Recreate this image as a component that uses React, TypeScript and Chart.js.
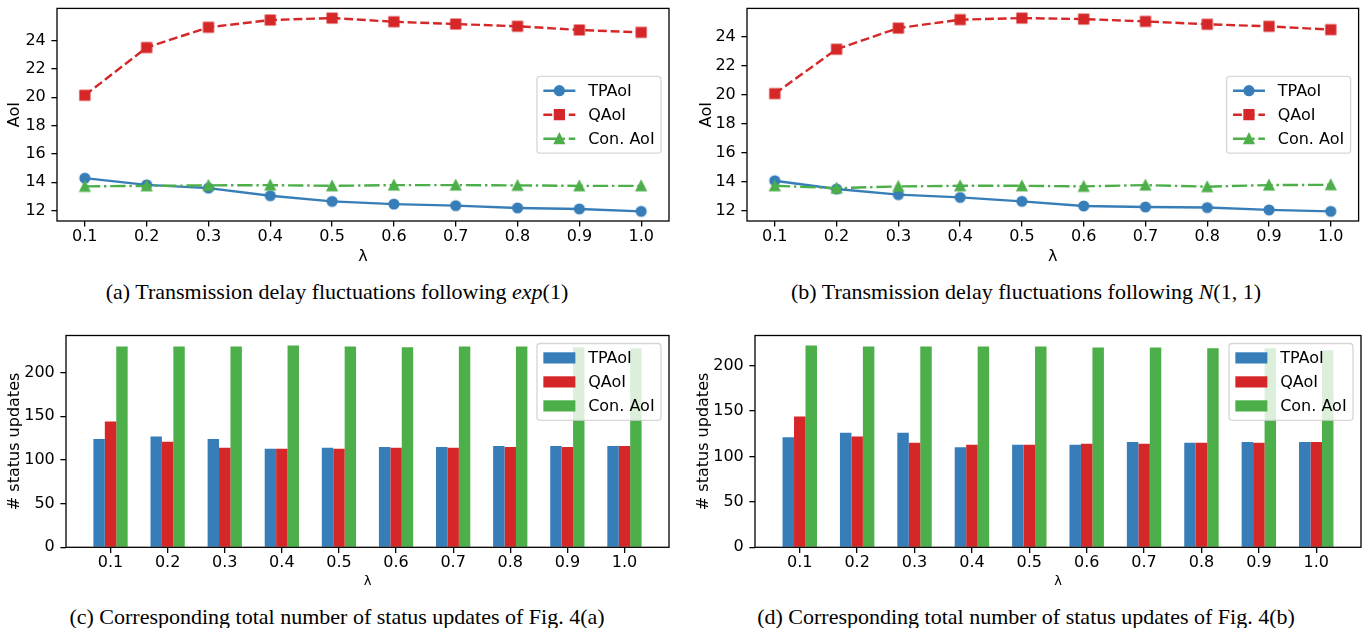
import React, { useEffect, useRef } from 'react';
import { Chart, registerables } from 'chart.js';

Chart.register(...registerables);

// ---------------- data ----------------
const LAMBDAS = [0.1, 0.2, 0.3, 0.4, 0.5, 0.6, 0.7, 0.8, 0.9, 1.0];
const LAMBDA_LABELS = ['0.1', '0.2', '0.3', '0.4', '0.5', '0.6', '0.7', '0.8', '0.9', '1.0'];
const SERIES = ['TPAoI', 'QAoI', 'Con. AoI'];
const AOI_TICKS = [12, 14, 16, 18, 20, 22, 24];
const COUNT_TICKS = [0, 50, 100, 150, 200];

// (a) exp(1)
const A_TPAOI = [14.29, 13.82, 13.59, 13.05, 12.65, 12.46, 12.35, 12.19, 12.12, 11.95];
const A_QAOI = [20.14, 23.51, 24.94, 25.45, 25.59, 25.33, 25.17, 25.01, 24.75, 24.58];
const A_CON = [13.71, 13.75, 13.78, 13.8, 13.75, 13.8, 13.8, 13.78, 13.75, 13.75];

// (b) N(1,1)
const B_TPAOI = [14.06, 13.49, 13.1, 12.91, 12.64, 12.32, 12.25, 12.21, 12.05, 11.95];
const B_QAOI = [20.07, 23.13, 24.59, 25.17, 25.28, 25.21, 25.05, 24.85, 24.71, 24.48];
const B_CON = [13.71, 13.55, 13.67, 13.71, 13.71, 13.67, 13.76, 13.65, 13.76, 13.78];

// (c) updates of (a)
const C_TPAOI = [124, 127, 124, 113, 114, 115, 115, 116, 116, 116];
const C_QAOI = [144, 121, 114, 113, 113, 114, 114, 115, 115, 116];
const C_CON = [230, 230, 230, 231, 230, 229, 230, 230, 229, 228];

// (d) updates of (b)
const D_TPAOI = [121, 126, 126, 110, 113, 113, 116, 115, 116, 116];
const D_QAOI = [144, 122, 115, 113, 113, 114, 114, 115, 115, 116];
const D_CON = [222, 221, 221, 221, 221, 220, 220, 219, 219, 217];

// ---------------- styles ----------------
const BLUE = '#377eb8';
const RED = '#d62728';
const GREEN = '#4daf4a';
const COLORS = [BLUE, RED, GREEN];
const MARKERS = ['circle', 'square', 'triangle'];
const DASHES: number[][] = [[], [8.9, 3.8], [15.4, 3.8, 2.4, 3.8]];
const FS = 16;
const FAMILY = '"DejaVu Sans", sans-serif';

function drawMarker(ctx: CanvasRenderingContext2D, kind: string, x: number, y: number, color: string) {
  ctx.save();
  ctx.setLineDash([]);
  ctx.fillStyle = color;
  ctx.strokeStyle = color;
  ctx.lineWidth = 1.6;
  ctx.lineJoin = 'miter';
  const r = 4.8;
  ctx.beginPath();
  if (kind === 'circle') ctx.arc(x, y, r, 0, Math.PI * 2);
  else if (kind === 'square') ctx.rect(x - r, y - r, 2 * r, 2 * r);
  else {
    ctx.moveTo(x, y - r);
    ctx.lineTo(x - r, y + r);
    ctx.lineTo(x + r, y + r);
    ctx.closePath();
  }
  ctx.fill();
  ctx.stroke();
  ctx.restore();
}

function markerCanvas(kind: string, color: string) {
  const c = document.createElement('canvas');
  c.width = 18;
  c.height = 18;
  const ctx = c.getContext('2d') as CanvasRenderingContext2D;
  drawMarker(ctx, kind, 9, 9, color);
  return c;
}

function padRange(lo: number, hi: number) {
  const m = 0.05 * (hi - lo);
  return [lo - m, hi + m];
}

function roundRectPath(ctx: CanvasRenderingContext2D, x: number, y: number, w: number, h: number, r: number) {
  ctx.beginPath();
  ctx.moveTo(x + r, y);
  ctx.lineTo(x + w - r, y);
  ctx.arcTo(x + w, y, x + w, y + r, r);
  ctx.lineTo(x + w, y + h - r);
  ctx.arcTo(x + w, y + h, x + w - r, y + h, r);
  ctx.lineTo(x + r, y + h);
  ctx.arcTo(x, y + h, x, y + h - r, r);
  ctx.lineTo(x, y + r);
  ctx.arcTo(x, y, x + r, y, r);
  ctx.closePath();
}

function frameLegendPlugin(kind: 'line' | 'bar', loc: 'center right' | 'upper right') {
  return {
    id: 'frameLegend',
    afterDatasetsDraw(chart: any) {
      const ctx: CanvasRenderingContext2D = chart.ctx;
      const a = chart.chartArea;
      ctx.save();
      ctx.setLineDash([]);
      ctx.strokeStyle = '#000';
      ctx.lineWidth = 1.3;
      ctx.strokeRect(a.left, a.top, a.right - a.left, a.bottom - a.top);

      ctx.font = `${FS}px ${FAMILY}`;
      const maxW = Math.max(...SERIES.map((l) => ctx.measureText(l).width));
      const pad = 0.4 * FS, hl = 2 * FS, htp = 0.8 * FS, rowH = FS, sp = 0.5 * FS;
      const w = pad + hl + htp + maxW + pad;
      const h = 2 * pad + SERIES.length * rowH + (SERIES.length - 1) * sp;
      const right = a.right - 0.5 * FS;
      const left = right - w;
      const top = loc === 'upper right' ? a.top + 0.5 * FS : (a.top + a.bottom) / 2 - h / 2;
      roundRectPath(ctx, left, top, w, h, 0.2 * FS);
      ctx.fillStyle = 'rgba(255,255,255,0.8)';
      ctx.fill();
      ctx.strokeStyle = 'rgba(204,204,204,0.8)';
      ctx.lineWidth = 1.3;
      ctx.stroke();

      SERIES.forEach((label, i) => {
        const cy = top + pad + rowH / 2 + i * (rowH + sp);
        const x0 = left + pad;
        const x1 = x0 + hl;
        if (kind === 'line') {
          ctx.save();
          ctx.strokeStyle = COLORS[i];
          ctx.lineWidth = 2.4;
          ctx.lineCap = 'butt';
          ctx.setLineDash(DASHES[i]);
          ctx.beginPath();
          ctx.moveTo(x0, cy);
          ctx.lineTo(x1, cy);
          ctx.stroke();
          ctx.restore();
          drawMarker(ctx, MARKERS[i], (x0 + x1) / 2, cy, COLORS[i]);
        } else {
          ctx.fillStyle = COLORS[i];
          ctx.fillRect(x0, cy - 0.35 * FS, hl, 0.7 * FS);
        }
        ctx.fillStyle = '#000';
        ctx.textAlign = 'left';
        ctx.textBaseline = 'middle';
        ctx.fillText(label, x1 + htp, cy + 1);
      });
      ctx.restore();
    },
  };
}

type Geom = {
  w: number; h: number;
  l: number; t: number; r: number; b: number;
  yTitlePad: number; xTitlePad: number; xTitleSize: number;
};

function gridOpts() {
  return {
    display: true,
    drawOnChartArea: false,
    drawTicks: true,
    tickLength: 5.6,
    tickWidth: 1.3,
    tickColor: '#000',
    lineWidth: 1.3,
    color: '#000',
  };
}

function axisCommon(g: Geom) {
  return { layout: { padding: { left: 0, top: g.t, right: g.w - g.r, bottom: 0 } } };
}

function fitX(g: Geom) {
  return (s: any) => {
    s.height = g.h - g.b;
    s.paddingLeft = 0;
    s.paddingRight = 0;
    s.paddingTop = 0;
    s.paddingBottom = 0;
  };
}

function fitY(g: Geom) {
  return (s: any) => {
    s.width = g.l;
    s.paddingLeft = 0;
    s.paddingRight = 0;
    s.paddingTop = 0;
    s.paddingBottom = 0;
  };
}

function lineConfig(tp: number[], q: number[], con: number[], g: Geom): any {
  const series = [tp, q, con];
  const all = [...tp, ...q, ...con];
  const [ymin, ymax] = padRange(Math.min(...all), Math.max(...all));
  const [xmin, xmax] = padRange(LAMBDAS[0], LAMBDAS[LAMBDAS.length - 1]);
  const datasets = series.map((vals, i) => ({
    label: SERIES[i],
    data: vals.map((v, k) => ({ x: LAMBDAS[k], y: v })),
    borderColor: COLORS[i],
    backgroundColor: COLORS[i],
    borderWidth: 2.4,
    borderDash: DASHES[i],
    borderJoinStyle: 'round',
    pointStyle: markerCanvas(MARKERS[i], COLORS[i]),
    pointRadius: 6,
    pointHoverRadius: 6,
    tension: 0,
    fill: false,
    order: 2 - i,
  }));
  return {
    type: 'line',
    data: { datasets },
    options: {
      animation: false,
      responsive: false,
      devicePixelRatio: 1,
      ...axisCommon(g),
      plugins: { legend: { display: false }, tooltip: { enabled: false } },
      scales: {
        x: {
          type: 'linear', min: xmin, max: xmax, offset: false,
          afterBuildTicks: (s: any) => { s.ticks = LAMBDAS.map((v) => ({ value: v })); },
          afterFit: fitX(g),
          ticks: {
            autoSkip: false, maxRotation: 0, minRotation: 0, padding: 0.5, color: '#000',
            font: { size: FS, family: FAMILY },
            callback: (v: any) => Number(v).toFixed(1),
          },
          grid: gridOpts(),
          border: { display: false },
          title: { display: true, text: 'λ', color: '#000', font: { size: g.xTitleSize, family: FAMILY }, padding: { top: 0, bottom: g.xTitlePad } },
        },
        y: {
          type: 'linear', min: ymin, max: ymax,
          afterBuildTicks: (s: any) => { s.ticks = AOI_TICKS.map((v) => ({ value: v })); },
          afterFit: fitY(g),
          ticks: { padding: 5.6, color: '#000', font: { size: FS, family: FAMILY }, callback: (v: any) => String(v) },
          grid: gridOpts(),
          border: { display: false },
          title: { display: true, text: 'AoI', color: '#000', font: { size: FS, family: FAMILY }, padding: { top: g.yTitlePad, bottom: 0 } },
        },
      },
    },
    plugins: [frameLegendPlugin('line', 'center right')],
  };
}

function barConfig(tp: number[], q: number[], con: number[], g: Geom): any {
  const series = [tp, q, con];
  const all = [...tp, ...q, ...con];
  const n = LAMBDA_LABELS.length;
  const [xmin, xmax] = padRange(-0.3, n - 1 + 0.3);
  const ymax = Math.max(...all) * 1.05;
  const datasets = series.map((vals, i) => ({
    label: SERIES[i],
    data: vals.map((v, k) => ({ x: k, y: v })),
    backgroundColor: COLORS[i],
    borderWidth: 0,
    categoryPercentage: 0.6,
    barPercentage: 1.0,
  }));
  return {
    type: 'bar',
    data: { datasets },
    options: {
      animation: false,
      responsive: false,
      devicePixelRatio: 1,
      ...axisCommon(g),
      plugins: { legend: { display: false }, tooltip: { enabled: false } },
      scales: {
        x: {
          type: 'linear', min: xmin, max: xmax, offset: false,
          afterBuildTicks: (s: any) => { s.ticks = LAMBDA_LABELS.map((_, i) => ({ value: i })); },
          afterFit: fitX(g),
          ticks: {
            autoSkip: false, maxRotation: 0, minRotation: 0, padding: 0.5, color: '#000',
            font: { size: FS, family: FAMILY },
            callback: (v: any) => LAMBDA_LABELS[Math.round(Number(v))] ?? '',
          },
          grid: { ...gridOpts(), offset: false },
          border: { display: false },
          title: { display: true, text: 'λ', color: '#000', font: { size: g.xTitleSize, family: FAMILY }, padding: { top: 0, bottom: g.xTitlePad } },
        },
        y: {
          type: 'linear', min: 0, max: ymax,
          afterBuildTicks: (s: any) => { s.ticks = COUNT_TICKS.map((v) => ({ value: v })); },
          afterFit: fitY(g),
          ticks: { padding: 5.6, color: '#000', font: { size: FS, family: FAMILY }, callback: (v: any) => String(v) },
          grid: gridOpts(),
          border: { display: false },
          title: { display: true, text: '# status updates', color: '#000', font: { size: FS, family: FAMILY }, padding: { top: g.yTitlePad, bottom: 0 } },
        },
      },
    },
    plugins: [frameLegendPlugin('bar', 'upper right')],
  };
}

function ChartCanvas({ x, y, w, h, make }: { x: number; y: number; w: number; h: number; make: () => any }) {
  const ref = useRef<HTMLCanvasElement | null>(null);
  useEffect(() => {
    if (!ref.current) return;
    const chart = new Chart(ref.current, make());
    return () => chart.destroy();
  }, []);
  return (
    <canvas
      ref={ref}
      width={w}
      height={h}
      style={{ position: 'absolute', left: x, top: y, width: w, height: h }}
    />
  );
}

const captionStyle = (cx: number, cy: number): React.CSSProperties => ({
  position: 'absolute',
  left: cx,
  top: cy,
  transform: 'translate(-50%, -50%)',
  whiteSpace: 'nowrap',
  fontFamily: '"Liberation Serif", "Times New Roman", serif',
  fontSize: 22,
  color: '#000',
  lineHeight: 1,
});

const GA: Geom = { w: 680, h: 270, l: 57, t: 6, r: 669, b: 221, yTitlePad: 5.4, xTitlePad: 3.4, xTitleSize: 16 };
const GB: Geom = { w: 687, h: 270, l: 67, t: 6, r: 680, b: 221, yTitlePad: 17.4, xTitlePad: 3.4, xTitleSize: 16 };
const GC: Geom = { w: 680, h: 280, l: 66, t: 15.5, r: 669, b: 227.3, yTitlePad: 5.4, xTitlePad: 11, xTitleSize: 13 };
const GD: Geom = { w: 687, h: 280, l: 75, t: 15.5, r: 681, b: 227.3, yTitlePad: 14.4, xTitlePad: 11, xTitleSize: 13 };

export default function App() {
  return (
    <div style={{ position: 'absolute', left: 0, top: 0, width: 1367, height: 628, background: '#fff', overflow: 'hidden' }}>
      <ChartCanvas x={0} y={0} w={GA.w} h={GA.h} make={() => lineConfig(A_TPAOI, A_QAOI, A_CON, GA)} />
      <ChartCanvas x={680} y={0} w={GB.w} h={GB.h} make={() => lineConfig(B_TPAOI, B_QAOI, B_CON, GB)} />
      <ChartCanvas x={0} y={320} w={GC.w} h={GC.h} make={() => barConfig(C_TPAOI, C_QAOI, C_CON, GC)} />
      <ChartCanvas x={680} y={320} w={GD.w} h={GD.h} make={() => barConfig(D_TPAOI, D_QAOI, D_CON, GD)} />
      <div style={captionStyle(337, 292)}>
        (a) Transmission delay fluctuations following <i>exp</i>(1)
      </div>
      <div style={captionStyle(1026, 292)}>
        (b) Transmission delay fluctuations following <i>N</i>(1, 1)
      </div>
      <div style={captionStyle(337, 617)}>
        (c) Corresponding total number of status updates of Fig. 4(a)
      </div>
      <div style={captionStyle(1026, 617)}>
        (d) Corresponding total number of status updates of Fig. 4(b)
      </div>
    </div>
  );
}
